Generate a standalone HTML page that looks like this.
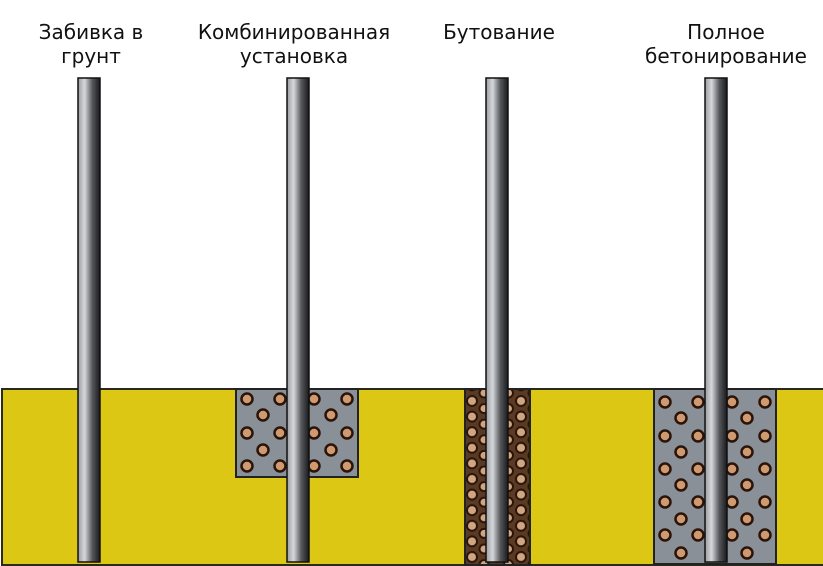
<!DOCTYPE html>
<html><head><meta charset="utf-8"><style>
html,body{margin:0;padding:0;background:#fff;width:823px;height:566px;overflow:hidden}
svg{display:block}
text{font-family:"DejaVu Sans","Liberation Sans",sans-serif;font-size:20px;fill:#111;text-anchor:middle}
</style></head><body>
<svg width="823" height="566" viewBox="0 0 823 566" xmlns="http://www.w3.org/2000/svg">
<defs>
<linearGradient id="pole" x1="0" x2="1" y1="0" y2="0">
<stop offset="0" stop-color="#9a9ca0"/><stop offset="0.3" stop-color="#d6d8dc"/><stop offset="0.65" stop-color="#55575c"/><stop offset="1" stop-color="#1a1a1c"/>
</linearGradient>
<pattern id="brown" patternUnits="userSpaceOnUse" x="465" y="393" width="24.5" height="15.6">
<rect width="24.5" height="15.6" fill="#5a3a22"/>
<circle cx="7" cy="8" r="5" fill="#cfa582" stroke="#2a140a" stroke-width="2"/>
<circle cx="19" cy="0" r="4.5" fill="#cfa582" stroke="#2a140a" stroke-width="2"/>
<circle cx="19" cy="15.6" r="4.5" fill="#cfa582" stroke="#2a140a" stroke-width="2"/>
</pattern>
</defs>
<text x="91" y="39">Забивка в</text>
<text x="91" y="63">грунт</text>
<text x="294" y="39">Комбинированная</text>
<text x="294" y="63">установка</text>
<text x="499" y="39">Бутование</text>
<text x="726" y="39">Полное</text>
<text x="726" y="63">бетонирование</text>

<rect x="2" y="389" width="830" height="176" fill="#dcc814" stroke="#2a2a1a" stroke-width="2"/>

<rect x="236" y="389" width="122" height="88" fill="#8a9098" stroke="#222" stroke-width="2"/>
<rect x="465" y="389" width="65" height="176" fill="url(#brown)" stroke="#222" stroke-width="2"/>
<rect x="654" y="389" width="122" height="175" fill="#8a9098" stroke="#222" stroke-width="2"/>

<g fill="#d09a70" stroke="#2a140a" stroke-width="2.5">
<circle cx="247" cy="399" r="5.5"/><circle cx="280" cy="399" r="5.5"/><circle cx="314" cy="399" r="5.5"/><circle cx="347" cy="399" r="5.5"/>
<circle cx="263" cy="415" r="5.5"/><circle cx="331" cy="415" r="5.5"/>
<circle cx="247" cy="433" r="5.5"/><circle cx="280" cy="433" r="5.5"/><circle cx="314" cy="433" r="5.5"/><circle cx="347" cy="433" r="5.5"/>
<circle cx="263" cy="450" r="5.5"/><circle cx="331" cy="450" r="5.5"/>
<circle cx="247" cy="466" r="5.5"/><circle cx="280" cy="466" r="5.5"/><circle cx="314" cy="466" r="5.5"/><circle cx="347" cy="466" r="5.5"/>

<circle cx="665" cy="402" r="5.5"/><circle cx="698" cy="402" r="5.5"/><circle cx="732" cy="402" r="5.5"/><circle cx="765" cy="402" r="5.5"/>
<circle cx="681" cy="418" r="5.5"/><circle cx="747" cy="418" r="5.5"/>
<circle cx="665" cy="436" r="5.5"/><circle cx="698" cy="436" r="5.5"/><circle cx="732" cy="436" r="5.5"/><circle cx="765" cy="436" r="5.5"/>
<circle cx="681" cy="452" r="5.5"/><circle cx="747" cy="452" r="5.5"/>
<circle cx="665" cy="469" r="5.5"/><circle cx="698" cy="469" r="5.5"/><circle cx="732" cy="469" r="5.5"/><circle cx="765" cy="469" r="5.5"/>
<circle cx="681" cy="485" r="5.5"/><circle cx="747" cy="485" r="5.5"/>
<circle cx="665" cy="502" r="5.5"/><circle cx="698" cy="502" r="5.5"/><circle cx="732" cy="502" r="5.5"/><circle cx="765" cy="502" r="5.5"/>
<circle cx="681" cy="519" r="5.5"/><circle cx="747" cy="519" r="5.5"/>
<circle cx="665" cy="535" r="5.5"/><circle cx="698" cy="535" r="5.5"/><circle cx="732" cy="535" r="5.5"/><circle cx="765" cy="535" r="5.5"/>
<circle cx="681" cy="553" r="5.5"/><circle cx="747" cy="553" r="5.5"/>
</g>

<g stroke="#111" stroke-width="1.5" fill="url(#pole)">
<rect x="78" y="78" width="22" height="484"/>
<rect x="287" y="78" width="22" height="484"/>
<rect x="486" y="78" width="22" height="484"/>
<rect x="705" y="78" width="22" height="484"/>
</g>
</svg>
</body></html>
